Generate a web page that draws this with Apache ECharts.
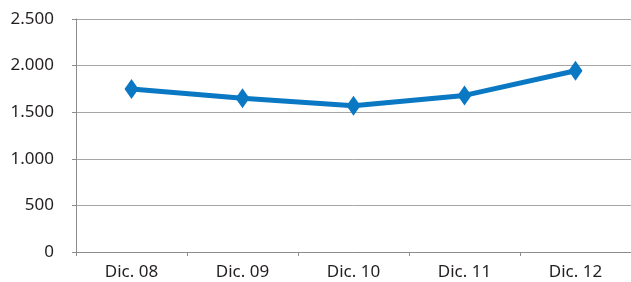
<!DOCTYPE html>
<html>
<head>
<meta charset="utf-8">
<script src="https://cdn.jsdelivr.net/npm/echarts@6/dist/echarts.min.js"></script>
<style>
  html, body { margin: 0; padding: 0; background: #fff; }
  #chart { width: 631px; height: 282px; }
</style>
</head>
<body>
<div id="chart"></div>
<script>
const categories = ['Dic. 08', 'Dic. 09', 'Dic. 10', 'Dic. 11', 'Dic. 12'];
const values = [1750, 1650, 1570, 1680, 1945];
const lineColor = '#0a78c3';

// separador de miles con punto
const fmt = v => String(v).replace(/\B(?=(\d{3})+(?!\d))/g, '.');

const chart = echarts.init(document.getElementById('chart'));
chart.setOption({
  animation: false,
  grid: { left: 76, right: 0, top: 19, bottom: 30 },
  xAxis: {
    type: 'category',
    data: categories,
    boundaryGap: true,
    axisLine: { lineStyle: { color: '#8c8c8c', width: 1 } },
    axisTick: { show: true, length: 4, lineStyle: { color: '#8c8c8c' } },
    axisLabel: { color: '#231f20', fontSize: 17, fontFamily: 'Noto Sans', margin: 12 }
  },
  yAxis: {
    type: 'value',
    min: 0,
    max: 2500,
    interval: 500,
    axisLine: { show: true, lineStyle: { color: '#8c8c8c', width: 1 } },
    axisTick: { show: true, length: 4, lineStyle: { color: '#8c8c8c' } },
    splitLine: { lineStyle: { color: '#a6a6a6', width: 1 } },
    axisLabel: { color: '#231f20', fontSize: 17, fontFamily: 'Noto Sans', margin: 22, formatter: fmt }
  },
  series: [{
    type: 'line',
    data: values,
    symbol: 'diamond',
    symbolSize: [14, 20],
    lineStyle: { color: lineColor, width: 5 },
    itemStyle: { color: lineColor }
  }]
});
</script>
</body>
</html>
